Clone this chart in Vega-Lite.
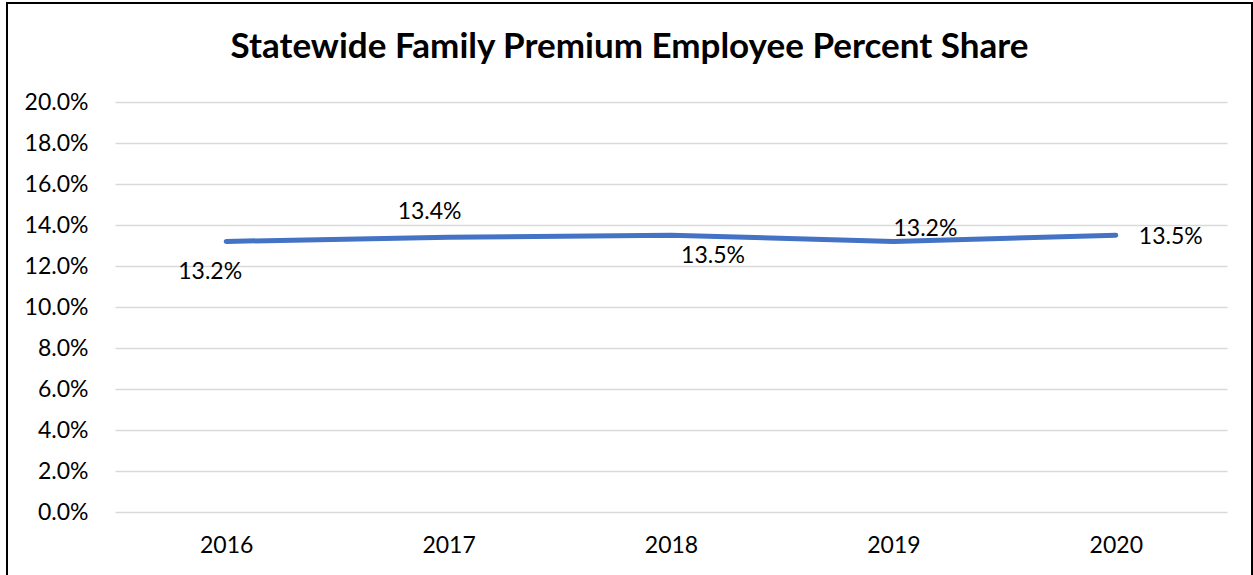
{
  "$schema": "https://vega.github.io/schema/vega-lite/v6.json",
  "width": 1245,
  "height": 575,
  "autosize": "none",
  "padding": {"left": 7, "top": 3, "right": 1, "bottom": 0},
  "background": "white",
  "config": {"view": {"stroke": "black", "strokeWidth": 2}, "font": "Lato"},
  "title": {
    "text": "Statewide Family Premium Employee Percent Share",
    "fontSize": 35,
    "fontWeight": "bold",
    "font": "Lato",
    "color": "black",
    "anchor": "middle",
    "frame": "group",
    "baseline": "alphabetic",
    "offset": -90
  },
  "data": {
    "values": [
      {"year": 2016, "share": 0.132},
      {"year": 2017, "share": 0.134},
      {"year": 2018, "share": 0.135},
      {"year": 2019, "share": 0.132},
      {"year": 2020, "share": 0.135}
    ]
  },
  "encoding": {
    "x": {
      "field": "year",
      "type": "quantitative",
      "scale": {"domain": [2015.5, 2020.5], "range": [108, 1220], "nice": false, "zero": false},
      "axis": {
        "values": [2016, 2017, 2018, 2019, 2020],
        "format": "d",
        "title": null,
        "grid": false,
        "domain": false,
        "ticks": false,
        "labelFontSize": 23,
        "labelColor": "black",
        "labelBaseline": "middle",
        "labelPadding": 0,
        "labelFlush": false,
        "offset": -33
      }
    },
    "y": {
      "field": "share",
      "type": "quantitative",
      "scale": {"domain": [0, 0.2], "range": [509, 99], "nice": false, "zero": false},
      "axis": {
        "values": [0, 0.02, 0.04, 0.06, 0.08, 0.1, 0.12, 0.14, 0.16, 0.18, 0.2],
        "format": ".1%",
        "title": null,
        "grid": true,
        "gridColor": "#d9d9d9",
        "gridWidth": 1.5,
        "domain": false,
        "ticks": false,
        "labelFontSize": 23,
        "labelColor": "black",
        "labelPadding": 2,
        "offset": -83
      }
    }
  },
  "layer": [
    {"mark": {"type": "line", "color": "#4472C4", "strokeWidth": 5, "strokeCap": "round", "strokeJoin": "round"}},
    {
      "transform": [{"filter": "datum.year == 2016"}],
      "mark": {"type": "text", "fontSize": 23, "color": "black", "align": "center", "baseline": "middle", "dx": -16, "dy": 31},
      "encoding": {"text": {"field": "share", "type": "quantitative", "format": ".1%"}}
    },
    {
      "transform": [{"filter": "datum.year == 2017"}],
      "mark": {"type": "text", "fontSize": 23, "color": "black", "align": "center", "baseline": "middle", "dx": -19, "dy": -25},
      "encoding": {"text": {"field": "share", "type": "quantitative", "format": ".1%"}}
    },
    {
      "transform": [{"filter": "datum.year == 2018"}],
      "mark": {"type": "text", "fontSize": 23, "color": "black", "align": "center", "baseline": "middle", "dx": 42, "dy": 21},
      "encoding": {"text": {"field": "share", "type": "quantitative", "format": ".1%"}}
    },
    {
      "transform": [{"filter": "datum.year == 2019"}],
      "mark": {"type": "text", "fontSize": 23, "color": "black", "align": "center", "baseline": "middle", "dx": 32, "dy": -12},
      "encoding": {"text": {"field": "share", "type": "quantitative", "format": ".1%"}}
    },
    {
      "transform": [{"filter": "datum.year == 2020"}],
      "mark": {"type": "text", "fontSize": 23, "color": "black", "align": "left", "baseline": "middle", "dx": 23, "dy": 2},
      "encoding": {"text": {"field": "share", "type": "quantitative", "format": ".1%"}}
    }
  ]
}
